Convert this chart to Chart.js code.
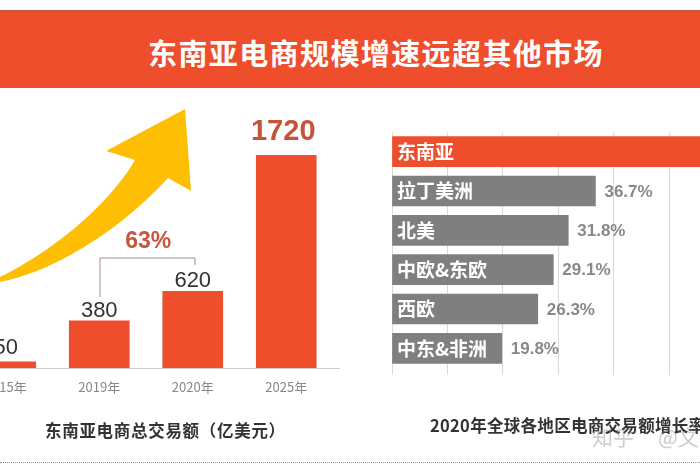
<!DOCTYPE html>
<html>
<head>
<meta charset="utf-8">
<script src="https://cdn.jsdelivr.net/npm/chart.js@4"></script>
<style>
  html, body { margin: 0; padding: 0; background: #fff; }
  #page { position: relative; width: 700px; height: 470px; overflow: hidden; font-family: "Noto Sans CJK SC", sans-serif; }
  #banner { position: absolute; left: 0; top: 10px; width: 700px; height: 78px; background: #ee4e2c; border-top: 1px solid #c9553f; box-sizing: border-box; }
  #title { position: absolute; left: 148px; top: 32px; color: #fff; font-size: 29px; font-weight: 700; letter-spacing: 1.4px; line-height: 40px; white-space: nowrap; }
  canvas { position: absolute; }
  #totalWrap { position: absolute; left: -41px; top: 100px; width: 400px; height: 310px; }
  #growthWrap { position: absolute; left: 380px; top: 100px; width: 410px; height: 280px; }
  .caption { position: absolute; color: #333; font-size: 16.5px; font-weight: 700; white-space: nowrap; }
  #leftCaption { left: 45px; top: 418px; letter-spacing: 0.7px; }
  #rightCaption { left: 430px; top: 413px; letter-spacing: 0.3px; }
  #dots { position: absolute; left: 0; top: 462px; width: 700px; border-top: 1px dotted #b08a80; }
  #mark { position: absolute; left: 592px; top: 421px; color: rgba(130,130,130,.4); font-size: 21px; white-space: nowrap; }
  #mark span { margin-left: 24px; }
  #deco { position: absolute; left: 0; top: 0; }
</style>
</head>
<body>
<div id="page">
  <div id="banner"></div>
  <div id="title">东南亚电商规模增速远超其他市场</div>
  <div id="totalWrap"><canvas id="totalChart"></canvas></div>
  <div id="growthWrap"><canvas id="growthChart"></canvas></div>
  <svg id="deco" width="700" height="470">
    <path d="M185,109 L106,151 L135,160 C115,195 65,245 0,277 L0,282 C60,270 125,225 168,178 L191,191 Z" fill="#fdbe03"/>
    <path d="M100,297 V258 H195 V265" fill="none" stroke="#a58e88" stroke-width="1"/>
  </svg>
  <div class="caption" id="leftCaption">东南亚电商总交易额（亿美元）</div>
  <div class="caption" id="rightCaption">2020年全球各地区电商交易额增长率</div>
  <div id="mark">知乎<span>@文</span></div>
  <div id="dots"></div>
</div>
<script>
const years = ['2015年', '2019年', '2020年', '2025年'];
const totals = [50, 380, 620, 1720];

const regions = ['东南亚', '拉丁美洲', '北美', '中欧&东欧', '西欧', '中东&非洲'];
const growth = [63, 36.7, 31.8, 29.1, 26.3, 19.8];

const RED = '#ee4e2c';
const GRAY = '#7f7f7f';
const NUM_FONT = '"Liberation Sans", Arial, sans-serif';
const CJK_FONT = '"Noto Sans CJK SC", sans-serif';

Chart.defaults.animation = false;
Chart.defaults.responsive = true;
Chart.defaults.maintainAspectRatio = false;

// value labels over the columns, plus the long baseline
const totalLabels = {
  id: 'totalLabels',
  afterDatasetsDraw(chart) {
    const { ctx, scales: { x, y } } = chart;
    ctx.save();
    ctx.strokeStyle = '#cfcfcf';
    ctx.beginPath();
    ctx.moveTo(0, y.getPixelForValue(0) + 0.5);
    ctx.lineTo(x.right + 7, y.getPixelForValue(0) + 0.5);
    ctx.stroke();
    ctx.textAlign = 'center';
    ctx.textBaseline = 'middle';
    totals.forEach((v, i) => {
      const big = v === 1720;
      ctx.fillStyle = big ? '#c4533c' : '#333';
      ctx.font = (big ? 'bold 29px ' : '22px ') + NUM_FONT;
      // the small column's label sits higher, the big one is off-centre in the source
      const lift = big ? 23 : (i === 0 ? 14 : 10);
      ctx.fillText(v, x.getPixelForValue(i) - (big ? 3 : 0), y.getPixelForValue(v) - lift);
    });
    // bracket label
    ctx.fillStyle = '#c8553d';
    ctx.font = 'bold 23px ' + NUM_FONT;
    ctx.fillText('63%', x.getPixelForValue(1) + 49, y.getPixelForValue(620) - 50);
    ctx.restore();
  }
};

new Chart(document.getElementById('totalChart'), {
  type: 'bar',
  data: {
    labels: years,
    datasets: [{ data: totals, backgroundColor: RED, barThickness: 60 }]
  },
  options: {
    layout: { padding: { top: 55, right: 26, left: 0, bottom: 0 } },
    plugins: { legend: { display: false }, tooltip: { enabled: false } },
    scales: {
      x: {
        grid: { display: false },
        border: { display: false },
        ticks: { color: '#888', font: { family: CJK_FONT, size: 13 }, padding: 3 },
        afterFit(scale) { scale.height = 42; }
      },
      y: { display: false, min: 0, max: 1720 }
    }
  },
  plugins: [totalLabels]
});

// region name inside each bar, percentage after it
const growthLabels = {
  id: 'growthLabels',
  afterDatasetsDraw(chart) {
    const { ctx, scales: { x, y } } = chart;
    ctx.save();
    ctx.textBaseline = 'middle';
    regions.forEach((name, i) => {
      const cy = y.getPixelForValue(i);
      ctx.textAlign = 'left';
      ctx.fillStyle = '#fff';
      ctx.font = 'bold 19px ' + CJK_FONT;
      ctx.fillText(name, x.getPixelForValue(0) + 5, cy);
      ctx.fillStyle = '#888';
      ctx.font = 'bold 17px ' + NUM_FONT;
      ctx.fillText(growth[i] + '%', x.getPixelForValue(growth[i]) + 9, cy + 1);
    });
    ctx.restore();
  }
};

new Chart(document.getElementById('growthChart'), {
  type: 'bar',
  data: {
    labels: regions,
    datasets: [{
      data: growth,
      backgroundColor: regions.map((r, i) => i === 0 ? RED : GRAY),
      barThickness: 30
    }]
  },
  options: {
    indexAxis: 'y',
    layout: { padding: { top: 32, right: 10, left: 12, bottom: 0 } },
    plugins: { legend: { display: false }, tooltip: { enabled: false } },
    scales: {
      x: {
        min: 0,
        max: 70,
        grid: { color: '#d9d9d9', tickLength: 7 },
        border: { display: false },
        ticks: { display: false, stepSize: 10 },
        afterFit(scale) { scale.height = 12; }
      },
      y: { display: false }
    }
  },
  plugins: [growthLabels]
});
</script>
</body>
</html>
